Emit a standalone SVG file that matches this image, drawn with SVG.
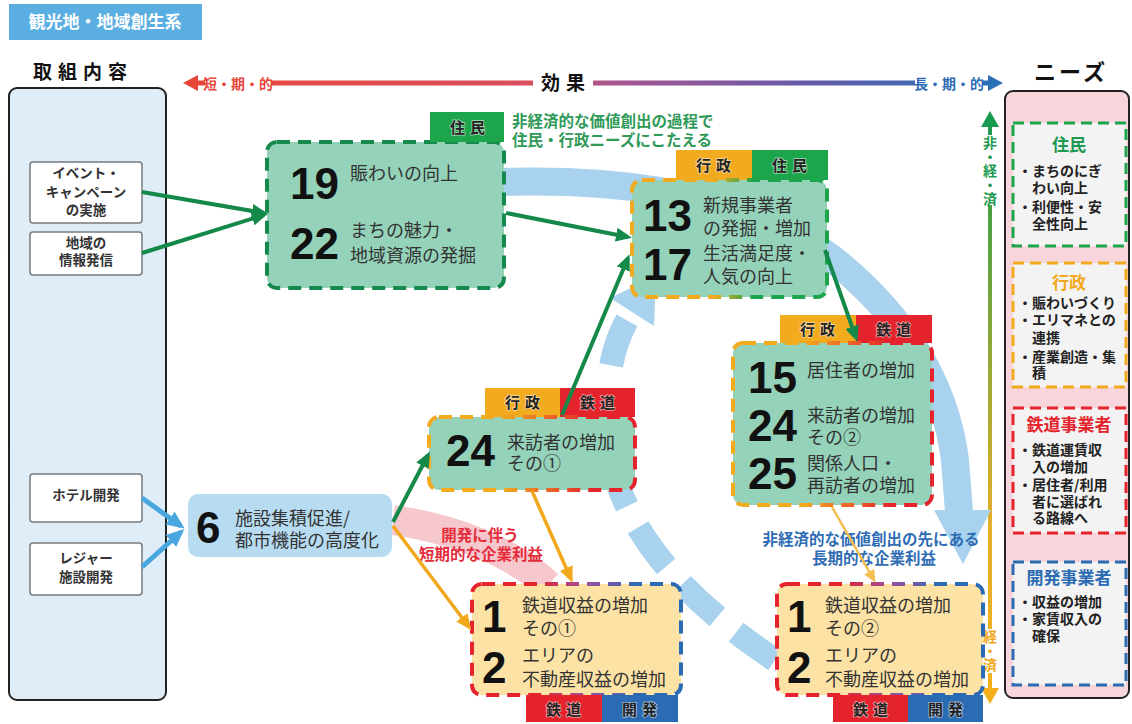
<svg xmlns="http://www.w3.org/2000/svg" width="1132" height="724" viewBox="0 0 1132 724">
<defs>
<style>
text{font-family:"Noto Sans CJK JP","Noto Sans CJK SC",sans-serif;}
.num{font-family:"Liberation Sans",Arial,sans-serif;font-weight:700;font-size:44px;fill:#111;}
.bt{font-size:18px;fill:#333;}
.tag{font-size:15px;font-weight:700;fill:#222;letter-spacing:5px;text-anchor:middle;stroke:#fff;stroke-opacity:0.6;stroke-width:1.5px;paint-order:stroke;}
.src rect{fill:#fff;stroke:#7a7a7a;stroke-width:1.5;}
.src text{font-size:13.5px;font-weight:700;fill:#333;text-anchor:middle;}
.need{fill:#f3f3f3;stroke-width:3;stroke-dasharray:11 6;}
.nt{font-size:17px;font-weight:700;text-anchor:middle;}
.nb{font-size:14px;font-weight:700;fill:#222;}
.eff{fill:#94d2b9;stroke-width:4;stroke-dasharray:13 8;}
.ben{fill:#fce2a4;stroke-width:4;stroke-dasharray:13 8;}
.ga{stroke:#14894a;stroke-width:4;fill:none;marker-end:url(#mg);}
.oa{stroke:#f1a81d;stroke-width:3.5;fill:none;marker-end:url(#mo);}
.ba{stroke:#4aa6df;stroke-width:5;fill:none;marker-end:url(#mb);}
.vt{font-size:14px;font-weight:700;writing-mode:vertical-rl;text-anchor:start;}
</style>
<marker id="mg" markerUnits="userSpaceOnUse" markerWidth="16" markerHeight="14" viewBox="0 0 16 14" refX="12" refY="7" orient="auto"><path d="M0,0 L16,7 L0,14 z" fill="#14894a"/></marker>
<marker id="mo" markerUnits="userSpaceOnUse" markerWidth="16" markerHeight="14" viewBox="0 0 16 14" refX="12" refY="7" orient="auto"><path d="M0,0 L16,7 L0,14 z" fill="#f1a81d"/></marker>
<marker id="mo2" markerUnits="userSpaceOnUse" markerWidth="13" markerHeight="12" viewBox="0 0 16 14" refX="12" refY="7" orient="auto"><path d="M0,0 L16,7 L0,14 z" fill="#f4bf50"/></marker>
<marker id="mb" markerUnits="userSpaceOnUse" markerWidth="18" markerHeight="16" viewBox="0 0 16 14" refX="12" refY="7" orient="auto"><path d="M0,0 L16,7 L0,14 z" fill="#4aa6df"/></marker>
<linearGradient id="gh" x1="195" y1="0" x2="995" y2="0" gradientUnits="userSpaceOnUse">
<stop offset="0" stop-color="#e8463a"/><stop offset="0.42" stop-color="#d8505e"/><stop offset="0.52" stop-color="#a85590"/><stop offset="0.75" stop-color="#6a5aa8"/><stop offset="1" stop-color="#2a6fb8"/>
</linearGradient>
<linearGradient id="gv" x1="0" y1="115" x2="0" y2="700" gradientUnits="userSpaceOnUse">
<stop offset="0" stop-color="#1a9a4e"/><stop offset="0.4" stop-color="#8fa838"/><stop offset="0.7" stop-color="#e3b02a"/><stop offset="1" stop-color="#f4b01c"/>
</linearGradient>
<linearGradient id="g-og"><stop offset="0" stop-color="#f2aa1f"/><stop offset="0.42" stop-color="#f2aa1f"/><stop offset="0.62" stop-color="#1da54c"/><stop offset="1" stop-color="#1da54c"/></linearGradient>
<linearGradient id="g-or"><stop offset="0" stop-color="#f2aa1f"/><stop offset="0.35" stop-color="#f2aa1f"/><stop offset="0.8" stop-color="#e4232c"/><stop offset="1" stop-color="#e4232c"/></linearGradient>
<linearGradient id="g-rb"><stop offset="0" stop-color="#e4232c"/><stop offset="0.3" stop-color="#e4232c"/><stop offset="0.55" stop-color="#9b4f9f"/><stop offset="0.8" stop-color="#2a6bb3"/><stop offset="1" stop-color="#2a6bb3"/></linearGradient>
</defs>
<rect width="1132" height="724" fill="#fff"/>

<g id="title">
<rect x="9" y="4" width="193" height="36" fill="#5aaee1"/>
<text x="105" y="28" font-size="17" font-weight="700" fill="#fff" text-anchor="middle">観光地・地域創生系</text>
</g>

<g id="header-left"><text x="83" y="79" font-size="19" font-weight="700" fill="#111" text-anchor="middle" letter-spacing="6">取組内容</text></g>
<g id="header-right"><text x="1071" y="80" font-size="22" font-weight="700" fill="#111" text-anchor="middle" letter-spacing="3">ニーズ</text></g>

<g id="axis-effect">
<line x1="195" y1="83" x2="992" y2="83" stroke="url(#gh)" stroke-width="5"/>
<polygon points="183,83 198,75 198,91" fill="#e8463a"/>
<polygon points="1003,83 988,75 988,91" fill="#2a6fb8"/>
<rect x="205" y="72" width="66" height="22" fill="#fff"/>
<text x="238" y="89" font-size="14" font-weight="700" fill="#e8463a" text-anchor="middle">短・期・的</text>
<rect x="533" y="70" width="60" height="26" fill="#fff"/>
<text x="566" y="90" font-size="19" font-weight="700" fill="#111" text-anchor="middle" letter-spacing="6">効果</text>
<rect x="915" y="72" width="68" height="22" fill="#fff"/>
<text x="949" y="89" font-size="14" font-weight="700" fill="#2f6cb5" text-anchor="middle">長・期・的</text>
</g>

<g id="axis-economic">
<line x1="990" y1="125" x2="990" y2="691" stroke="url(#gv)" stroke-width="4"/>
<polygon points="990,111 981,127 999,127" fill="#1a9a4e"/>
<polygon points="990,704 981,688 999,688" fill="#f4b01c"/>
<rect x="981" y="135" width="18" height="70" fill="#fff"/>
<text class="vt" x="990" y="136" fill="#1f9a50">非・経・済</text>
<rect x="981" y="629" width="18" height="44" fill="#fff"/>
<text class="vt" x="990" y="630" fill="#f0a820">経・済</text>
</g>

<g id="flows">
<path d="M503,182 C640,178 760,200 840,265 C900,315 945,380 955,460 L959,512" stroke="#a8d2ee" stroke-width="28" fill="none"/>
<polygon points="934,510 991,510 963,564" fill="#a8d2ee"/>
<path d="M775,660 C700,610 607,530 607,420 C607,370 614,340 632,312" stroke="#a8d2ee" stroke-width="24" fill="none" stroke-dasharray="48 24"/>
<polygon points="610,298 654,326 656,276" fill="#a8d2ee"/>
<path d="M393,520 C450,528 510,550 548,585" stroke="#f6c8ce" stroke-width="30" fill="none"/>
</g>

<g id="panel-left">
<rect x="9" y="88" width="157" height="612" rx="8" fill="#deedf8" stroke="#222" stroke-width="2"/>
</g>
<g id="panel-right">
<rect x="1005" y="91" width="124" height="607" rx="8" fill="#f8d4db" stroke="#222" stroke-width="2"/>
</g>

<g id="src-event" class="src">
<rect x="30" y="162" width="112" height="61" rx="3"/>
<text x="86" y="178">イベント・</text><text x="86" y="197">キャンペーン</text><text x="86" y="215">の実施</text>
</g>
<g id="src-info" class="src">
<rect x="30" y="232" width="112" height="43" rx="3"/>
<text x="86" y="248">地域の</text><text x="86" y="265">情報発信</text>
</g>
<g id="src-hotel" class="src">
<rect x="30" y="474" width="112" height="48" rx="3"/>
<text x="86" y="500">ホテル開発</text>
</g>
<g id="src-leisure" class="src">
<rect x="30" y="543" width="112" height="52" rx="3"/>
<text x="86" y="563">レジャー</text><text x="86" y="582">施設開発</text>
</g>

<g id="e19-22">
<rect x="267" y="142" width="237" height="146" rx="10" class="eff" stroke="#168a4c"/>
<rect x="430" y="112" width="74" height="30" fill="#1da54c"/>
<text class="tag" x="470" y="133">住民</text>
<text class="num" x="290" y="199">19</text>
<text class="bt" x="350" y="180">賑わいの向上</text>
<text class="num" x="290" y="259">22</text>
<text class="bt" x="350" y="237">まちの魅力・</text>
<text class="bt" x="350" y="262">地域資源の発掘</text>
</g>

<g id="note-green">
<text x="512" y="127" font-size="15.5" font-weight="700" fill="#2f9a58">非経済的な価値創出の過程で</text>
<text x="512" y="146" font-size="15.5" font-weight="700" fill="#2f9a58">住民・行政ニーズにこたえる</text>
</g>

<g id="e13-17">
<rect x="676" y="150" width="76" height="30" fill="#f2aa1f"/>
<rect x="752" y="150" width="76" height="30" fill="#1da54c"/>
<text class="tag" x="716" y="171">行政</text>
<text class="tag" x="792" y="171">住民</text>
<rect x="632" y="180" width="195" height="117" rx="10" class="eff" stroke="url(#g-og)"/>
<text class="num" x="643" y="231">13</text>
<text class="bt" x="703" y="212">新規事業者</text>
<text class="bt" x="703" y="235">の発掘・増加</text>
<text class="num" x="643" y="280">17</text>
<text class="bt" x="703" y="260">生活満足度・</text>
<text class="bt" x="703" y="283">人気の向上</text>
</g>

<g id="e15-24-25">
<rect x="780" y="315" width="76" height="28" fill="#f2aa1f"/>
<rect x="856" y="315" width="76" height="28" fill="#e4232c"/>
<text class="tag" x="820" y="335">行政</text>
<text class="tag" x="896" y="335">鉄道</text>
<rect x="733" y="343" width="199" height="162" rx="10" class="eff" stroke="url(#g-or)"/>
<text class="num" x="748" y="393">15</text>
<text class="bt" x="807" y="377">居住者の増加</text>
<text class="num" x="748" y="441">24</text>
<text class="bt" x="807" y="422">来訪者の増加</text>
<text class="bt" x="807" y="444">その②</text>
<text class="num" x="748" y="489">25</text>
<text class="bt" x="807" y="470">関係人口・</text>
<text class="bt" x="807" y="492">再訪者の増加</text>
</g>

<g id="e24-1">
<rect x="485" y="388" width="75" height="29" fill="#f2aa1f"/>
<rect x="560" y="388" width="75" height="29" fill="#e4232c"/>
<text class="tag" x="525" y="408">行政</text>
<text class="tag" x="600" y="408">鉄道</text>
<rect x="429" y="417" width="206" height="73" rx="10" class="eff" stroke="url(#g-or)"/>
<text class="num" x="446" y="466">24</text>
<text class="bt" x="507" y="449">来訪者の増加</text>
<text class="bt" x="507" y="470">その①</text>
</g>

<g id="e6">
<rect x="188" y="494" width="204" height="63" rx="10" fill="#b7dcf2"/>
<text class="num" x="196" y="543">6</text>
<text class="bt" x="235" y="525">施設集積促進/</text>
<text class="bt" x="235" y="547">都市機能の高度化</text>
</g>

<g id="note-red">
<text x="480" y="541" font-size="15.5" font-weight="700" fill="#e42c3a" text-anchor="middle">開発に伴う</text>
<text x="481" y="560" font-size="15.5" font-weight="700" fill="#e42c3a" text-anchor="middle">短期的な企業利益</text>
</g>
<g id="note-blue">
<text x="871" y="545" font-size="15.5" font-weight="700" fill="#2f6db4" text-anchor="middle">非経済的な価値創出の先にある</text>
<text x="874" y="564" font-size="15.5" font-weight="700" fill="#2f6db4" text-anchor="middle">長期的な企業利益</text>
</g>

<g id="b1-2-short">
<rect x="472" y="584" width="209" height="111" rx="10" class="ben" stroke="url(#g-rb)"/>
<rect x="526" y="695" width="76" height="27" fill="#e4232c"/>
<rect x="602" y="695" width="76" height="27" fill="#2a6bb3"/>
<text class="tag" x="566" y="715">鉄道</text>
<text class="tag" x="642" y="715">開発</text>
<text class="num" x="482" y="632">1</text>
<text class="bt" x="522" y="612">鉄道収益の増加</text>
<text class="bt" x="522" y="635">その①</text>
<text class="num" x="482" y="683">2</text>
<text class="bt" x="522" y="662">エリアの</text>
<text class="bt" x="522" y="686">不動産収益の増加</text>
</g>

<g id="b1-2-long">
<rect x="777" y="584" width="206" height="111" rx="10" class="ben" stroke="url(#g-rb)"/>
<rect x="833" y="695" width="75" height="27" fill="#e4232c"/>
<rect x="908" y="695" width="75" height="27" fill="#2a6bb3"/>
<text class="tag" x="873" y="715">鉄道</text>
<text class="tag" x="948" y="715">開発</text>
<text class="num" x="787" y="632">1</text>
<text class="bt" x="825" y="612">鉄道収益の増加</text>
<text class="bt" x="825" y="635">その②</text>
<text class="num" x="787" y="683">2</text>
<text class="bt" x="825" y="662">エリアの</text>
<text class="bt" x="825" y="686">不動産収益の増加</text>
</g>

<g id="need-resident">
<rect x="1013" y="123" width="113" height="123" class="need" stroke="#1da54c"/>
<text class="nt" x="1069" y="151" fill="#1e9a50">住民</text>
<text class="nb" x="1018" y="176">・まちのにぎ</text>
<text class="nb" x="1032" y="193">わい向上</text>
<text class="nb" x="1018" y="212">・利便性・安</text>
<text class="nb" x="1032" y="229">全性向上</text>
</g>
<g id="need-gov">
<rect x="1013" y="263" width="113" height="124" class="need" stroke="#f2aa1f"/>
<text class="nt" x="1069" y="289" fill="#f2a91d">行政</text>
<text class="nb" x="1018" y="308">・賑わいづくり</text>
<text class="nb" x="1018" y="325">・エリマネとの</text>
<text class="nb" x="1032" y="343">連携</text>
<text class="nb" x="1018" y="362">・産業創造・集</text>
<text class="nb" x="1032" y="378">積</text>
</g>
<g id="need-rail">
<rect x="1013" y="408" width="113" height="125" class="need" stroke="#e4232c"/>
<text class="nt" x="1069" y="431" fill="#e4232c" font-size="18">鉄道事業者</text>
<text class="nb" x="1018" y="455">・鉄道運賃収</text>
<text class="nb" x="1032" y="472">入の増加</text>
<text class="nb" x="1018" y="490">・居住者/利用</text>
<text class="nb" x="1032" y="507">者に選ばれ</text>
<text class="nb" x="1032" y="523">る路線へ</text>
</g>
<g id="need-dev">
<rect x="1013" y="562" width="113" height="123" class="need" stroke="#2a6bb3"/>
<text class="nt" x="1069" y="584" fill="#2a6bb3" font-size="18">開発事業者</text>
<text class="nb" x="1018" y="607">・収益の増加</text>
<text class="nb" x="1018" y="624">・家賃収入の</text>
<text class="nb" x="1032" y="641">確保</text>
</g>

<g id="connectors">
<path class="ga" d="M142,192 L264,213"/>
<path class="ga" d="M142,253 L264,215"/>
<path class="ga" d="M506,213 L628,237"/>
<path class="ga" d="M562,415 L628,258"/>
<path class="ga" d="M393,522 L428,455"/>
<path class="ga" d="M825,250 L856,338"/>
<path class="oa" d="M532,491 L571,579"/>
<path class="oa" d="M393,526 L469,627"/>
<path d="M832,507 L874,580" stroke="#f4bf50" stroke-width="2.5" fill="none" marker-end="url(#mo2)"/>
<path class="ba" d="M142,498 L181,526"/>
<path class="ba" d="M142,567 L181,532"/>
</g>
</svg>
